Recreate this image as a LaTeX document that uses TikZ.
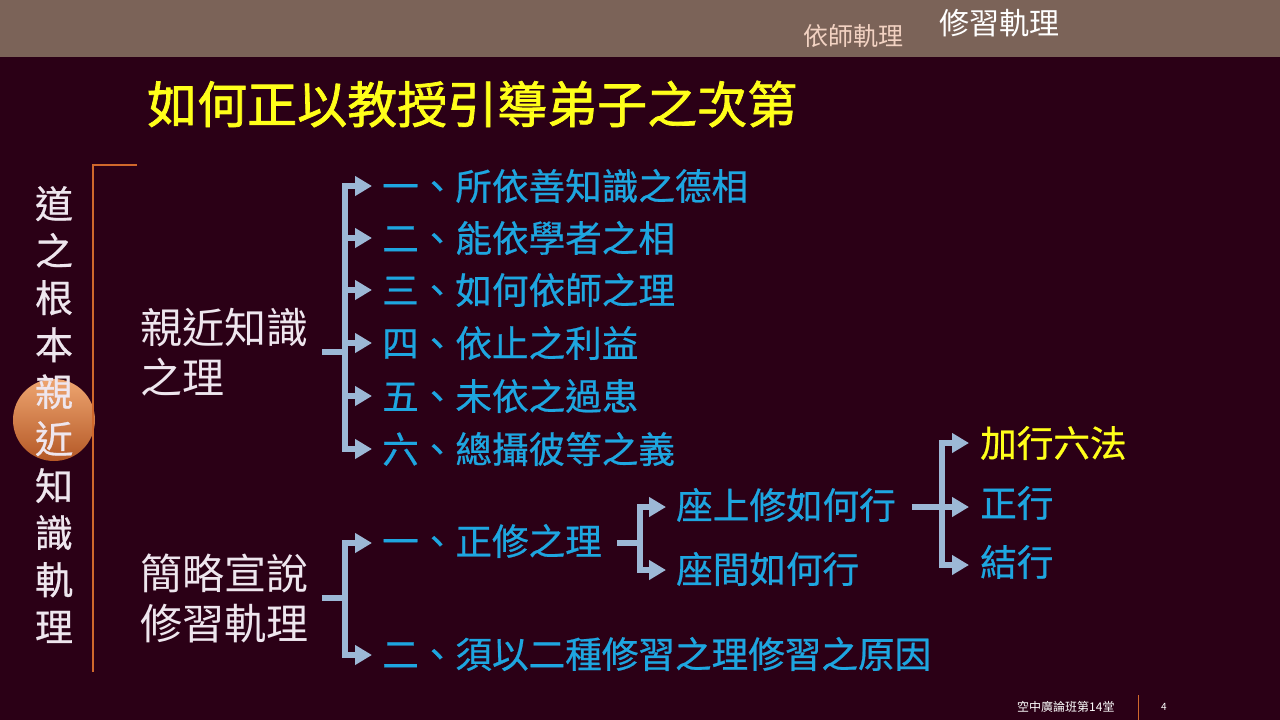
\documentclass[tikz,border=0pt]{standalone}
\usepackage{fontspec}
\newfontfamily\cjk{Noto Sans CJK TC}
\newfontfamily\cjkm[FakeBold=0.6]{Noto Sans CJK TC}
\newfontfamily\cjkt[FakeBold=1.4]{Noto Sans CJK TC}
\usetikzlibrary{arrows.meta,calc}
\definecolor{bgc}{HTML}{2B0016}
\definecolor{barc}{HTML}{7B6358}
\definecolor{linec}{HTML}{9CB8D6}
\definecolor{itemc}{HTML}{1EA6E0}
\definecolor{yel}{HTML}{FFFF1A}
\definecolor{wht}{HTML}{EEE6EE}
\definecolor{orn}{HTML}{D0682C}
\definecolor{pinkc}{HTML}{F2D2C2}
\begin{document}
\begin{tikzpicture}[x=1pt,y=-1pt,
  lbl/.style={anchor=west,inner sep=0pt,text=wht,font=\cjk\fontsize{42}{50}\selectfont,align=left},
  item/.style={anchor=west,inner sep=0pt,text=itemc,font=\cjkm\fontsize{36.6}{36.6}\selectfont},
  conn/.style={draw=linec,line width=5.5pt},
  arr/.style={conn,-{Triangle[length=17pt,width=19pt]}}]
\fill[bgc] (0,0) rectangle (1280,720);
\useasboundingbox (0,0) rectangle (1280,720);
\fill[barc] (0,0) rectangle (1280,57);
\node[anchor=west,inner sep=0pt,text=pinkc,font=\cjk\fontsize{25}{25}\selectfont] (t1) at (803,36) {依師軌理};
\node[anchor=west,inner sep=0pt,text=white,font=\cjk\fontsize{30}{30}\selectfont] (t2) at (939,23) {修習軌理};
% title
\node[anchor=west,inner sep=0pt,text=yel,font=\cjkt\fontsize{50}{50}\selectfont] (title) at (147,104) {如何正以教授引導弟子之次第};
% left vertical
\shade[top color={rgb,255:red,238;green,165;blue,112},bottom color={rgb,255:red,180;green,88;blue,38}] (54,420) circle (41);
\draw[orn,line width=1.2pt] (137,165) -- (93,165) -- (93,672);
\node[inner sep=0pt,text=wht,font=\cjkm\fontsize{38}{47}\selectfont,align=center,anchor=north] (vt) at (54,186) {道\\之\\根\\本\\親\\近\\知\\識\\軌\\理};
% labels
\node[lbl] (L1) at (140,352) {親近知識\\之理};
\node[lbl] (L2) at (140,598) {簡略宣說\\修習軌理};
% items group 1
\node[item] (a1) at (382,186) {一、所依善知識之德相};
\node[item] (a2) at (382,238) {二、能依學者之相};
\node[item] (a3) at (382,290) {三、如何依師之理};
\node[item] (a4) at (382,343) {四、依止之利益};
\node[item] (a5) at (382,396) {五、未依之過患};
\node[item] (a6) at (382,449) {六、總攝彼等之義};
\coordinate (s1) at (322,352);
\coordinate (b1) at (345,352);
\draw[conn] (s1) -- (b1);
\foreach \i in {1,...,6}{\draw[arr] (b1) |- ($(a\i.west)+(-10,0)$);}
% group 2
\node[item] (c1) at (382,541) {一、正修之理};
\node[item] (c2) at (382,654) {二、須以二種修習之理修習之原因};
\coordinate (s2) at (322,598);
\coordinate (b2) at (345,598);
\draw[conn] (s2) -- (b2);
\draw[arr] (b2) |- ($(c1.west)+(-10,2)$);
\draw[arr] (b2) |- ($(c2.west)+(-10,1)$);
% group 3
\node[item] (d1) at (676,505) {座上修如何行};
\node[item] (d2) at (676,569) {座間如何行};
\coordinate (s3) at (617,543);
\coordinate (b3) at (640,543);
\draw[conn] (s3) -- (b3);
\draw[arr] (b3) |- ($(d1.west)+(-10,2)$);
\draw[arr] (b3) |- ($(d2.west)+(-10,1)$);
% group 4
\node[item,text=yel] (e1) at (980,443) {加行六法};
\node[item] (e2) at (980,503) {正行};
\node[item] (e3) at (980,562) {結行};
\coordinate (s4) at (912,507);
\coordinate (b4) at (942,507);
\draw[conn] (s4) -- (b4);
\draw[arr] (b4) |- ($(e1.west)+(-11,0)$);
\draw[arr] (b4) -- ($(e2.west)+(-11,4)$);
\draw[arr] (b4) |- ($(e3.west)+(-11,3)$);
% footer
\node[anchor=west,inner sep=0pt,text=white,font=\cjk\fontsize{12}{12}\selectfont] (ft) at (1017,707) {空中廣論班第14堂};
\draw[orn,line width=0.8pt] (1138,695) -- (1138,720);
\node[anchor=center,inner sep=0pt,text=white,font=\cjk\fontsize{10}{10}\selectfont] (pg) at (1164,707) {4};
\end{tikzpicture}
\end{document}
